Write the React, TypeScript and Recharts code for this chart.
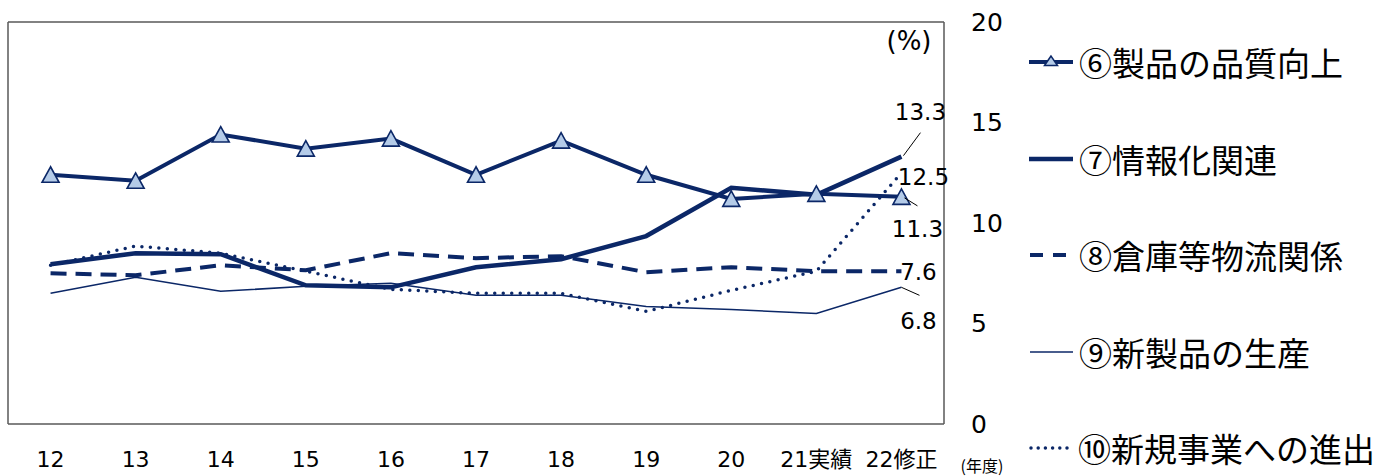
import React from 'react';
import { LineChart, Line, XAxis, YAxis, LabelList, Label } from 'recharts';

const categories = ['12', '13', '14', '15', '16', '17', '18', '19', '20', '21実績', '22修正'];
const quality = [12.4, 12.1, 14.4, 13.7, 14.2, 12.4, 14.1, 12.4, 11.2, 11.45, 11.3];
const informatization = [7.95, 8.5, 8.45, 6.9, 6.8, 7.8, 8.2, 9.35, 11.75, 11.4, 13.3];
const logistics = [7.5, 7.4, 7.9, 7.65, 8.5, 8.25, 8.35, 7.55, 7.8, 7.6, 7.6];
const newProducts = [6.5, 7.3, 6.6, 6.85, 7.0, 6.4, 6.4, 5.85, 5.7, 5.5, 6.8];
const newBusiness = [7.9, 8.85, 8.5, 7.6, 6.7, 6.5, 6.5, 5.6, 6.65, 7.6, 12.5];
const yTicks = [0, 5, 10, 15, 20];
const seriesNames = ['⑥製品の品質向上', '⑦情報化関連', '⑧倉庫等物流関係', '⑨新製品の生産', '⑩新規事業への進出'];

const data = categories.map((c, i) => ({
  cat: c,
  s6: quality[i],
  s7: informatization[i],
  s8: logistics[i],
  s9: newProducts[i],
  s10: newBusiness[i],
}));

const NAVY = '#0b2767';
const TRI_FILL = '#b4cbe8';
const BOX = '#595959';
const FONT = "'DejaVu Sans', 'Noto Sans CJK JP', sans-serif";
const CJK = "'Noto Sans CJK JP', 'DejaVu Sans', sans-serif";

const W = 1375;
const H = 476;
const PLOT_LEFT = 8;
const PLOT_RIGHT = 944;
const PLOT_TOP = 22;
const PLOT_BOTTOM = 424;
const HALF_BAND = (PLOT_RIGHT - PLOT_LEFT) / categories.length / 2;

const Triangle = (props: any) => {
  const { cx, cy, index } = props;
  if (cx == null || cy == null) return null;
  return (
    <polygon
      key={'tri' + index}
      points={`${cx},${cy - 8} ${cx - 8.5},${cy + 7.5} ${cx + 8.5},${cy + 7.5}`}
      fill={TRI_FILL}
      stroke={NAVY}
      strokeWidth={1.6}
    />
  );
};

const XTick = (props: any) => {
  const { x, payload } = props;
  return (
    <text x={x} y={PLOT_BOTTOM + 35} textAnchor="middle" dominantBaseline="central" fontSize={22} fill="#000" fontFamily={FONT}>
      {payload.value}
    </text>
  );
};

const YTick = (props: any) => {
  const { y, payload } = props;
  return (
    <text x={PLOT_RIGHT + 27} y={y} textAnchor="start" dominantBaseline="central" fontSize={25} fill="#000" fontFamily={FONT}>
      {payload.value}
    </text>
  );
};

type LabelSpec = { dx: number; dy: number; leader?: [number, number, number, number] };

const makeEndLabel = (spec: LabelSpec) => (p: any) => {
  const { x, y, value, index } = p;
  if (index !== categories.length - 1 || x == null || y == null) return null;
  return (
    <g>
      {spec.leader && (
        <line
          x1={x + spec.leader[0]}
          y1={y + spec.leader[1]}
          x2={x + spec.leader[2]}
          y2={y + spec.leader[3]}
          stroke="#000"
          strokeWidth={1}
        />
      )}
      <text x={x + spec.dx} y={y + spec.dy} textAnchor="middle" dominantBaseline="central" fontSize={23} fill="#000" fontFamily={FONT}>
        {Number(value).toFixed(1)}
      </text>
    </g>
  );
};

const legendItems = [
  { name: seriesNames[0], kind: 'tri' },
  { name: seriesNames[1], kind: 'thick' },
  { name: seriesNames[2], kind: 'dash' },
  { name: seriesNames[3], kind: 'thin' },
  { name: seriesNames[4], kind: 'dot' },
];

const LegendIcon = ({ kind }: { kind: string }) => {
  return (
    <svg width={46} height={20} style={{ display: 'block' }}>
      {kind === 'tri' && (
        <g>
          <line x1={1} y1={10} x2={45} y2={10} stroke={NAVY} strokeWidth={4} />
          <polygon points="23,4 16.5,13.5 29.5,13.5" fill={TRI_FILL} stroke={NAVY} strokeWidth={1.5} />
        </g>
      )}
      {kind === 'thick' && <line x1={1} y1={10} x2={45} y2={10} stroke={NAVY} strokeWidth={4.5} />}
      {kind === 'dash' && <line x1={2} y1={10} x2={45} y2={10} stroke={NAVY} strokeWidth={4} strokeDasharray="13 10" />}
      {kind === 'thin' && <line x1={2} y1={10} x2={45} y2={10} stroke={NAVY} strokeWidth={1.5} />}
      {kind === 'dot' && (
        <line x1={3} y1={10} x2={45} y2={10} stroke={NAVY} strokeWidth={3.5} strokeDasharray="0 7.2" strokeLinecap="round" />
      )}
    </svg>
  );
};

const LegendBlock = () => (
  <div style={{ position: 'absolute', left: 1028, top: 14, width: 347, display: 'flex', flexDirection: 'column' }}>
    {legendItems.map((it) => (
      <div key={it.name} style={{ display: 'flex', alignItems: 'center', height: 96.5 }}>
        <LegendIcon kind={it.kind} />
        <span style={{ marginLeft: 5, fontSize: 33, fontFamily: CJK, color: '#000', whiteSpace: 'nowrap', lineHeight: '40px' }}>
          {it.name}
        </span>
      </div>
    ))}
  </div>
);

export default function App() {
  return (
    <div style={{ position: 'absolute', left: 0, top: 0, width: W, height: H, background: '#fff', overflow: 'hidden' }}>
      <LineChart
        width={W}
        height={H}
        data={data}
        margin={{ top: PLOT_TOP - 1, right: 0, bottom: 0, left: PLOT_LEFT - 1 }}
      >
        <XAxis
          xAxisId="b"
          dataKey="cat"
          orientation="bottom"
          height={H - PLOT_BOTTOM}
          padding={{ left: HALF_BAND, right: HALF_BAND }}
          axisLine={{ stroke: BOX, strokeWidth: 1.5 }}
          tickLine={false}
          tick={<XTick />}
          interval={0}
        >
          <Label
            content={() => (
              <text x={PLOT_RIGHT + 38} y={PLOT_BOTTOM + 41} textAnchor="middle" dominantBaseline="central" fontSize={16} fill="#000" fontFamily={CJK}>
                (年度)
              </text>
            )}
          />
        </XAxis>
        <XAxis
          xAxisId="t"
          dataKey="cat"
          orientation="top"
          height={1}
          padding={{ left: HALF_BAND, right: HALF_BAND }}
          axisLine={{ stroke: BOX, strokeWidth: 1.5 }}
          tickLine={false}
          tick={false}
        />
        <YAxis
          yAxisId="l"
          orientation="left"
          width={1}
          domain={[0, 20]}
          ticks={yTicks}
          axisLine={{ stroke: BOX, strokeWidth: 1.5 }}
          tickLine={false}
          tick={false}
        />
        <YAxis
          yAxisId="r"
          orientation="right"
          width={W - PLOT_RIGHT}
          domain={[0, 20]}
          ticks={yTicks}
          axisLine={{ stroke: BOX, strokeWidth: 1.5 }}
          tickLine={false}
          tick={<YTick />}
          interval={0}
        >
          <Label
            content={() => (
              <text x={PLOT_RIGHT - 35} y={PLOT_TOP + 19} textAnchor="middle" dominantBaseline="central" fontSize={26} fill="#000" fontFamily={FONT}>
                (%)
              </text>
            )}
          />
        </YAxis>
        <Line xAxisId="b" yAxisId="r" dataKey="s9" name={seriesNames[3]} stroke={NAVY} strokeWidth={1.5} dot={false} isAnimationActive={false}>
          <LabelList dataKey="s9" content={makeEndLabel({ dx: 17, dy: 34, leader: [0, 0, 18, 8] })} />
        </Line>
        <Line
          xAxisId="b"
          yAxisId="r"
          dataKey="s10"
          name={seriesNames[4]}
          stroke={NAVY}
          strokeWidth={3.5}
          strokeDasharray="0 8.5"
          strokeLinecap="round"
          dot={false}
          isAnimationActive={false}
        >
          <LabelList dataKey="s10" content={makeEndLabel({ dx: 22, dy: 4 })} />
        </Line>
        <Line
          xAxisId="b"
          yAxisId="r"
          dataKey="s8"
          name={seriesNames[2]}
          stroke={NAVY}
          strokeWidth={4}
          strokeDasharray="16 9"
          dot={false}
          isAnimationActive={false}
        >
          <LabelList dataKey="s8" content={makeEndLabel({ dx: 17, dy: 1 })} />
        </Line>
        <Line xAxisId="b" yAxisId="r" dataKey="s7" name={seriesNames[1]} stroke={NAVY} strokeWidth={4.5} dot={false} isAnimationActive={false}>
          <LabelList dataKey="s7" content={makeEndLabel({ dx: 19, dy: -45, leader: [2, -1, 19, -24] })} />
        </Line>
        <Line xAxisId="b" yAxisId="r" dataKey="s6" name={seriesNames[0]} stroke={NAVY} strokeWidth={4} dot={<Triangle />} isAnimationActive={false}>
          <LabelList dataKey="s6" content={makeEndLabel({ dx: 16, dy: 32, leader: [3, 1, 16, 9] })} />
        </Line>
      </LineChart>
      <LegendBlock />
    </div>
  );
}
